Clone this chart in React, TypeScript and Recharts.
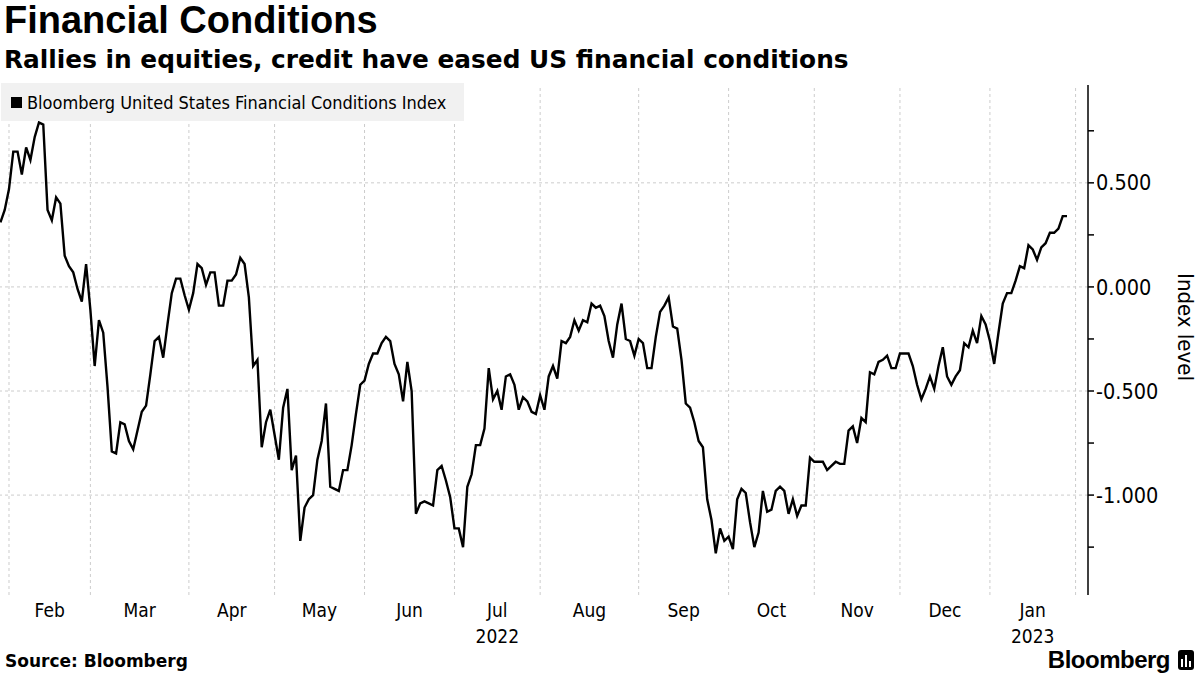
import { LineChart, Line, XAxis, YAxis, ReferenceLine } from "recharts";

// Bloomberg US Financial Conditions Index, one value per bond-market trading day
// from Jan 28 2022 to Jan 27 2023
const fciValues = [
  0.31, 0.37, 0.47, 0.65, 0.65, 0.54, 0.67, 0.61, 0.72, 0.79,
  0.78, 0.37, 0.32, 0.43, 0.4, 0.15, 0.1, 0.07, -0.01, -0.07,
  0.11, -0.11, -0.38, -0.16, -0.22, -0.48, -0.79, -0.8, -0.65, -0.66,
  -0.74, -0.78, -0.69, -0.6, -0.57, -0.42, -0.26, -0.24, -0.34, -0.18,
  -0.03, 0.04, 0.04, -0.04, -0.11, -0.03, 0.11, 0.09, 0.01, 0.07,
  0.07, -0.09, -0.09, 0.03, 0.03, 0.06, 0.14, 0.11, -0.05, -0.38,
  -0.35, -0.77, -0.65, -0.59, -0.71, -0.83, -0.58, -0.49, -0.88, -0.81,
  -1.22, -1.06, -1.02, -1.0, -0.83, -0.74, -0.56, -0.96, -0.97, -0.98,
  -0.88, -0.88, -0.76, -0.61, -0.47, -0.45, -0.37, -0.32, -0.32, -0.27,
  -0.24, -0.26, -0.37, -0.42, -0.55, -0.36, -0.5, -1.09, -1.04, -1.03,
  -1.04, -1.05, -0.88, -0.86, -0.93, -1.01, -1.16, -1.16, -1.25, -0.96,
  -0.9, -0.76, -0.76, -0.68, -0.39, -0.54, -0.5, -0.59, -0.43, -0.42,
  -0.47, -0.59, -0.53, -0.55, -0.6, -0.61, -0.52, -0.59, -0.43, -0.38,
  -0.44, -0.26, -0.27, -0.24, -0.16, -0.21, -0.16, -0.17, -0.08, -0.1,
  -0.09, -0.14, -0.26, -0.34, -0.18, -0.08, -0.25, -0.26, -0.33, -0.25,
  -0.27, -0.39, -0.39, -0.24, -0.12, -0.09, -0.05, -0.19, -0.2, -0.35,
  -0.56, -0.58, -0.65, -0.74, -0.77, -1.02, -1.12, -1.28, -1.16, -1.22,
  -1.2, -1.26, -1.02, -0.97, -0.99, -1.13, -1.25, -1.18, -0.98, -1.08,
  -1.07, -0.98, -0.96, -0.98, -1.09, -1.02, -1.1, -1.05, -1.05, -0.82,
  -0.84, -0.84, -0.84, -0.88, -0.86, -0.84, -0.85, -0.85, -0.69, -0.67,
  -0.75, -0.63, -0.65, -0.41, -0.42, -0.36, -0.35, -0.33, -0.39, -0.39,
  -0.32, -0.32, -0.32, -0.38, -0.47, -0.54, -0.49, -0.43, -0.49, -0.38,
  -0.29, -0.43, -0.47, -0.43, -0.4, -0.27, -0.29, -0.21, -0.27, -0.14,
  -0.18, -0.26, -0.37, -0.22, -0.08, -0.03, -0.03, 0.03, 0.1, 0.09,
  0.2, 0.18, 0.13, 0.19, 0.21, 0.26, 0.26, 0.28, 0.34, 0.34,
];

// index of the first trading day of each month (last one = Feb 2023)
const monthStarts = [2, 21, 44, 64, 85, 106, 126, 149, 170, 190, 210, 231, 251];
const monthLabels = ["Feb", "Mar", "Apr", "May", "Jun", "Jul", "Aug", "Sep", "Oct", "Nov", "Dec", "Jan"];
const yearLabels = ["", "", "", "", "", "2022", "", "", "", "", "", "2023"];

const yTicks = [-1.25, -1, -0.75, -0.5, -0.25, 0, 0.25, 0.5, 0.75];
const yGrid = [-1, -0.5, 0, 0.5];

const data = fciValues.map((v, i) => ({ i, v }));
const labelTicks = monthLabels.map((_, k) => (monthStarts[k] + monthStarts[k + 1]) / 2);

const condensed = '"DejaVu Sans Condensed", "DejaVu Sans", sans-serif';
const arialBold = '"Liberation Sans", Arial, sans-serif';
const dejaBold = '"DejaVu Sans", sans-serif';

const MonthTick = ({ x, y, payload }: any) => {
  const k = labelTicks.indexOf(payload.value);
  return (
    <g>
      <text x={x} y={y + 14} textAnchor="middle" fill="#000" fontSize={19} fontFamily={condensed}>
        {monthLabels[k]}
      </text>
      {yearLabels[k] && (
        <text x={x} y={y + 40} textAnchor="middle" fill="#000" fontSize={19} fontFamily={condensed}>
          {yearLabels[k]}
        </text>
      )}
    </g>
  );
};

const fmtY = (v: number) => (Math.abs(v * 2 - Math.round(v * 2)) < 1e-9 ? v.toFixed(3) : "");

export default function App() {
  return (
    <div style={{ position: "relative", width: 1200, height: 675, background: "#fff", overflow: "hidden" }}>
      <style>{`body{margin:0}`}</style>

      <div style={{ position: "absolute", left: 4, top: -1, fontFamily: arialBold, fontWeight: 700, fontSize: 38, color: "#000" }}>
        Financial Conditions
      </div>
      <div style={{ position: "absolute", left: 4, top: 45, fontFamily: dejaBold, fontWeight: 700, fontSize: 24.8, color: "#000" }}>
        Rallies in equities, credit have eased US financial conditions
      </div>

      <LineChart width={1200} height={675} data={data} margin={{ top: 85, right: 0, bottom: 0, left: 0 }}>
        {yGrid.map((g) => (
          <ReferenceLine key={"h" + g} y={g} stroke="#cccccc" strokeDasharray="3 3" />
        ))}
        {monthStarts.map((m) => (
          <ReferenceLine key={"v" + m} x={m} stroke="#cccccc" strokeDasharray="3 3" />
        ))}
        <XAxis
          dataKey="i"
          type="number"
          domain={[-0.1, 253.9]}
          ticks={labelTicks}
          tick={<MonthTick />}
          axisLine={false}
          tickLine={false}
          height={80}
          interval={0}
          allowDataOverflow
        />
        <YAxis
          orientation="right"
          domain={[-1.48, 0.97]}
          ticks={yTicks}
          tickFormatter={fmtY}
          interval={0}
          width={112}
          allowDataOverflow
          axisLine={{ stroke: "#000", strokeWidth: 1.5 }}
          tickLine={{ stroke: "#000", strokeWidth: 1.5 }}
          tickSize={6}
          tick={{ fill: "#000", fontSize: 21.5, fontFamily: condensed }}
        />
        <Line
          type="linear"
          dataKey="v"
          stroke="#000"
          strokeWidth={2.4}
          dot={false}
          isAnimationActive={false}
        />
      </LineChart>

      <div
        style={{
          position: "absolute", left: 1, top: 83, width: 463, height: 38, background: "#f1f1f1",
          display: "flex", alignItems: "center", fontFamily: condensed, fontSize: 18, color: "#000",
        }}
      >
        <span style={{ display: "inline-block", width: 11, height: 11, background: "#000", marginLeft: 10, marginRight: 5 }} />
        Bloomberg United States Financial Conditions Index
      </div>

      <div
        style={{
          position: "absolute", left: 1185, top: 327, transform: "translate(-50%, -50%) rotate(90deg)",
          fontFamily: condensed, fontSize: 22, color: "#000", whiteSpace: "nowrap",
        }}
      >
        Index level
      </div>

      <div style={{ position: "absolute", left: 5, top: 651, fontFamily: dejaBold, fontWeight: 700, fontSize: 17, color: "#000" }}>
        Source: Bloomberg
      </div>
      <div style={{ position: "absolute", right: 6, top: 646, display: "flex", alignItems: "center", gap: 8 }}>
        <span style={{ fontFamily: arialBold, fontWeight: 700, fontSize: 24, color: "#000", letterSpacing: -0.5 }}>Bloomberg</span>
        <svg width={16} height={20} viewBox="0 0 16 20">
          <rect x={0} y={0} width={16} height={20} rx={3} fill="#000" />
          <rect x={3} y={9} width={2} height={8} fill="#fff" />
          <rect x={7} y={5} width={2} height={12} fill="#fff" />
          <rect x={11} y={11} width={2} height={6} fill="#fff" />
        </svg>
      </div>
    </div>
  );
}
